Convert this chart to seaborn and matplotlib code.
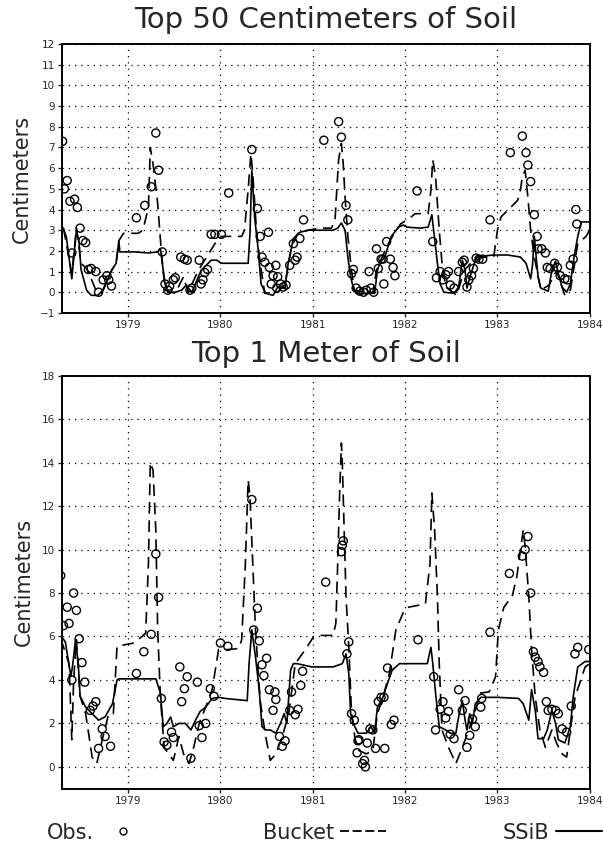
import matplotlib
matplotlib.use("Agg")
import matplotlib.pyplot as plt
from matplotlib.lines import Line2D
import seaborn as sns

# ---------------- Top 50 cm of soil ----------------
top_obs_x = [1978.29, 1978.31, 1978.34, 1978.37, 1978.39, 1978.42, 1978.45, 1978.48, 1978.51, 1978.54,
             1978.57, 1978.60, 1978.65, 1978.68, 1978.73, 1978.77, 1978.79, 1978.82,
             1979.09, 1979.18, 1979.25, 1979.30, 1979.33, 1979.37, 1979.40, 1979.43, 1979.45, 1979.49,
             1979.51, 1979.57, 1979.61, 1979.64, 1979.67, 1979.69, 1979.77, 1979.79, 1979.81, 1979.83,
             1979.86, 1979.90, 1979.94, 1980.01, 1980.09,
             1980.34, 1980.40, 1980.43, 1980.45, 1980.48, 1980.52, 1980.53, 1980.55, 1980.57, 1980.60,
             1980.61, 1980.62, 1980.65, 1980.68, 1980.71, 1980.75, 1980.79, 1980.81, 1980.83, 1980.86, 1980.90,
             1981.12, 1981.28, 1981.31, 1981.36, 1981.38, 1981.42, 1981.44, 1981.47, 1981.51, 1981.55,
             1981.58, 1981.61, 1981.63, 1981.66, 1981.69, 1981.71, 1981.74, 1981.76, 1981.77, 1981.80,
             1981.84, 1981.87, 1981.89,
             1982.13, 1982.30, 1982.34, 1982.38, 1982.41, 1982.44, 1982.47, 1982.49, 1982.53, 1982.58,
             1982.62, 1982.64, 1982.67, 1982.69, 1982.72, 1982.74, 1982.77, 1982.80, 1982.84, 1982.92,
             1983.14, 1983.27, 1983.31, 1983.33, 1983.36, 1983.40, 1983.43, 1983.44, 1983.48, 1983.52,
             1983.54, 1983.57, 1983.62, 1983.65, 1983.68, 1983.73, 1983.76, 1983.79, 1983.82, 1983.85, 1983.86]
top_obs_y = [7.3, 5.0, 5.4, 4.4, 1.9, 4.5, 4.1, 3.1, 2.5, 2.4,
             1.1, 1.15, 1.0, 0.0, 0.6, 0.8, 0.6, 0.3,
             3.6, 4.2, 5.1, 7.7, 5.9, 1.95, 0.4, 0.1, 0.3, 0.6,
             0.7, 1.7, 1.6, 1.55, 0.1, 0.2, 1.55, 0.4, 0.6, 0.95,
             1.1, 2.8, 2.8, 2.8, 4.8,
             6.9, 4.05, 2.7, 1.7, 1.45, 2.9, 1.2, 0.4, 0.8, 1.3,
             0.2, 0.75, 0.4, 0.25, 0.35, 1.3, 2.35, 1.55, 1.7, 2.6, 3.5,
             7.35, 8.25, 7.5, 4.2, 3.5, 0.9, 1.1, 0.2, 0.05, 0.0,
             0.1, 1.0, 0.2, 0.0, 2.1, 1.15, 1.6, 1.6, 0.4, 2.45,
             1.6, 1.2, 0.8,
             4.9, 2.45, 0.7, 1.0, 0.6, 0.85, 1.0, 0.35, 0.2, 1.0,
             1.45, 1.55, 0.25, 0.6, 0.8, 1.15, 1.65, 1.6, 1.6, 3.5,
             6.75, 7.55, 6.75, 6.15, 5.35, 3.75, 2.7, 2.1, 2.1, 1.9,
             1.2, 1.15, 1.4, 1.2, 0.8, 0.65, 0.6, 1.3, 1.6, 4.0, 3.3]

top_ssib_x = [1978.29, 1978.33, 1978.39, 1978.44, 1978.47, 1978.49, 1978.55, 1978.60, 1978.67, 1978.73,
              1978.82, 1978.87, 1978.90, 1978.91, 1979.07, 1979.22, 1979.32, 1979.35, 1979.40, 1979.43,
              1979.51, 1979.58, 1979.63, 1979.69, 1979.79, 1979.90, 1979.96, 1980.01, 1980.30, 1980.32,
              1980.34, 1980.37, 1980.41, 1980.44, 1980.49, 1980.57, 1980.62, 1980.70, 1980.73, 1980.79,
              1980.86, 1980.95, 1981.00, 1981.22, 1981.27, 1981.31, 1981.35, 1981.38, 1981.41, 1981.44,
              1981.47, 1981.58, 1981.67, 1981.70, 1981.73, 1981.78, 1981.85, 1981.93, 1981.98, 1982.02,
              1982.16, 1982.25, 1982.29, 1982.35, 1982.38, 1982.42, 1982.53, 1982.58, 1982.62, 1982.65,
              1982.67, 1982.70, 1982.75, 1982.78, 1982.84, 1982.96, 1983.11, 1983.25, 1983.31, 1983.36,
              1983.38, 1983.40, 1983.42, 1983.44, 1983.47, 1983.55, 1983.59, 1983.63, 1983.66, 1983.70,
              1983.75, 1983.79, 1983.83, 1983.87, 1983.91, 1984.00]
top_ssib_y = [3.15, 2.7, 0.65, 3.0, 2.35, 1.1, 0.1, -0.15, -0.15, 0.1,
              1.05, 1.4, 2.5, 1.95, 1.95, 1.9, 1.95, 2.1, 0.4, 0.0,
              0.0, 0.1, 0.35, 0.0, 1.05, 1.55, 1.55, 1.4, 1.4, 2.85,
              5.9, 3.65, 2.0, 0.4, -0.05, -0.15, 0.25, 0.2, 1.3, 2.6,
              2.9, 3.0, 3.0, 3.0, 3.1, 3.35, 3.0, 1.7, 0.75, 0.2,
              -0.05, -0.05, -0.05, 1.05, 1.45, 1.7, 2.7, 3.15, 3.25, 3.15,
              3.1, 3.15, 3.75, 1.4, 0.4, 0.0, -0.05, 0.25, 1.55, 1.05,
              0.2, 0.7, 1.4, 1.7, 1.75, 1.8, 1.8, 1.7, 1.4, 0.65,
              1.3, 2.7, 1.7, 0.75, 0.2, 0.05, 1.05, 1.5, 0.9, 0.25,
              0.0, 0.4, 1.7, 2.7, 3.4, 3.4]

top_bucket_x = [1978.30, 1978.39, 1978.44, 1978.49, 1978.55, 1978.60, 1978.66, 1978.71, 1978.82, 1978.87,
                1978.90, 1978.95, 1979.11, 1979.16, 1979.22, 1979.24, 1979.27, 1979.32, 1979.36, 1979.40,
                1979.51, 1979.60, 1979.65, 1979.76, 1979.94, 1980.01, 1980.23, 1980.26, 1980.30, 1980.33,
                1980.35, 1980.39, 1980.43, 1980.48, 1980.62, 1980.70, 1980.77, 1980.84, 1980.95, 1981.07,
                1981.20, 1981.24, 1981.26, 1981.28, 1981.31, 1981.33, 1981.35, 1981.38, 1981.42, 1981.45,
                1981.65, 1981.69, 1981.80, 1981.87, 1981.95, 1982.04, 1982.11, 1982.25, 1982.28, 1982.30,
                1982.33, 1982.35, 1982.37, 1982.40, 1982.44, 1982.56, 1982.64, 1982.71, 1982.84, 1982.96,
                1983.00, 1983.04, 1983.11, 1983.22, 1983.25, 1983.27, 1983.30, 1983.33, 1983.36, 1983.40,
                1983.47, 1983.56, 1983.64, 1983.73, 1983.79, 1983.87, 1983.96, 1984.00]
top_bucket_y = [3.1, 0.9, 3.1, 1.4, 1.15, 0.65, 0.0, -0.05, 1.05, 1.4,
                2.5, 2.85, 2.85, 3.0, 4.1, 7.0, 6.2, 4.3, 1.95, 0.1,
                -0.05, 0.75, 0.0, 1.05, 2.35, 2.7, 2.7, 3.0, 4.95, 6.7,
                5.75, 3.0, 1.4, -0.05, 0.0, 0.4, 2.2, 2.85, 3.0, 3.1,
                3.1, 3.4, 4.95, 6.4, 7.2, 6.2, 4.6, 2.7, 1.05, 0.1,
                -0.05, 1.05, 2.2, 2.75, 3.3, 3.55, 3.8, 3.8, 4.95, 6.4,
                5.6, 4.3, 3.0, 1.4, 0.25, -0.15, 1.05, 1.4, 1.7, 1.7,
                3.0, 3.65, 3.95, 4.45, 4.95, 5.6, 5.9, 4.6, 3.0, 1.7,
                0.1, 0.35, 1.05, -0.15, 0.1, 2.35, 2.7, 3.0]

# ---------------- Top 1 m of soil ----------------
m1_obs_x = [1978.27, 1978.30, 1978.34, 1978.36, 1978.39, 1978.41, 1978.44, 1978.47, 1978.50, 1978.53,
            1978.59, 1978.62, 1978.65, 1978.68, 1978.72, 1978.75, 1978.81,
            1979.09, 1979.17, 1979.25, 1979.30, 1979.33, 1979.36, 1979.39, 1979.42, 1979.47, 1979.49,
            1979.56, 1979.58, 1979.61, 1979.64, 1979.68, 1979.75, 1979.77, 1979.80, 1979.84, 1979.89, 1979.93,
            1980.00, 1980.08, 1980.34, 1980.36, 1980.40, 1980.42, 1980.45, 1980.47, 1980.50, 1980.53,
            1980.57, 1980.59, 1980.60, 1980.64, 1980.67, 1980.70, 1980.75, 1980.77, 1980.81, 1980.84,
            1980.87, 1980.89,
            1981.14, 1981.31, 1981.32, 1981.33, 1981.37, 1981.39, 1981.42, 1981.45, 1981.48, 1981.49,
            1981.50, 1981.54, 1981.56, 1981.57, 1981.59, 1981.62, 1981.65, 1981.68, 1981.71, 1981.74,
            1981.77, 1981.78, 1981.81, 1981.85, 1981.88,
            1982.14, 1982.31, 1982.33, 1982.38, 1982.41, 1982.44, 1982.47, 1982.49, 1982.53, 1982.58,
            1982.62, 1982.65, 1982.67, 1982.70, 1982.73, 1982.76, 1982.82, 1982.83, 1982.92,
            1983.13, 1983.27, 1983.30, 1983.33, 1983.36, 1983.39, 1983.41, 1983.44, 1983.46, 1983.50,
            1983.53, 1983.55, 1983.59, 1983.63, 1983.66, 1983.70, 1983.75, 1983.80, 1983.84, 1983.87, 1983.99]
m1_obs_y = [8.8, 6.5, 7.35, 6.6, 4.0, 8.0, 7.2, 5.9, 4.8, 3.9,
            2.6, 2.8, 3.0, 0.85, 1.75, 1.4, 0.95,
            4.3, 5.3, 6.1, 9.8, 7.8, 3.15, 1.15, 1.0, 1.6, 1.35,
            4.6, 3.0, 3.6, 4.15, 0.4, 3.9, 1.9, 1.35, 2.0, 3.6, 3.25,
            5.7, 5.55, 12.3, 6.3, 7.3, 5.8, 4.7, 4.2, 5.0, 3.55,
            2.6, 3.45, 3.1, 1.4, 0.95, 1.2, 2.6, 3.45, 2.4, 2.65,
            3.75, 4.4,
            8.5, 9.9, 10.2, 10.4, 5.2, 5.75, 2.45, 2.15, 0.65, 1.2,
            1.25, 0.15, 0.3, 0.0, 1.1, 1.75, 1.7, 0.85, 3.0, 3.2,
            3.2, 0.85, 4.55, 1.95, 2.15,
            5.85, 4.15, 1.7, 2.65, 3.0, 2.25, 2.55, 1.5, 1.3, 3.55,
            2.6, 3.05, 0.9, 1.45, 2.2, 1.85, 2.75, 3.15, 6.2,
            8.9, 9.7, 10.0, 10.6, 8.0, 5.3, 5.05, 4.85, 4.6, 4.35,
            3.0, 2.6, 2.65, 2.6, 2.45, 1.75, 1.6, 2.8, 5.2, 5.5, 5.4]

m1_ssib_x = [1978.27, 1978.32, 1978.38, 1978.40, 1978.43, 1978.46, 1978.48, 1978.54, 1978.61, 1978.68,
             1978.75, 1978.79, 1978.83, 1978.86, 1978.88, 1978.90, 1979.30, 1979.35, 1979.38, 1979.42,
             1979.46, 1979.49, 1979.55, 1979.62, 1979.68, 1979.73, 1979.78, 1979.84, 1979.91, 1979.98,
             1980.05, 1980.29, 1980.31, 1980.34, 1980.38, 1980.42, 1980.45, 1980.49, 1980.54, 1980.60,
             1980.65, 1980.69, 1980.72, 1980.76, 1980.79, 1980.83, 1980.99, 1981.22, 1981.32, 1981.36,
             1981.39, 1981.41, 1981.45, 1981.49, 1981.58, 1981.63, 1981.67, 1981.70, 1981.76, 1981.81,
             1981.86, 1981.94, 1982.24, 1982.28, 1982.30, 1982.33, 1982.37, 1982.44, 1982.49, 1982.55,
             1982.58, 1982.62, 1982.65, 1982.67, 1982.70, 1982.73, 1982.76, 1982.82, 1983.01, 1983.23,
             1983.28, 1983.34, 1983.37, 1983.41, 1983.44, 1983.50, 1983.54, 1983.59, 1983.63, 1983.66,
             1983.73, 1983.79, 1983.82, 1983.87, 1983.95, 1984.00]
m1_ssib_y = [6.05, 5.75, 4.15, 4.7, 5.85, 4.75, 3.25, 2.75, 2.45, 2.15,
             2.3, 2.6, 2.9, 3.55, 4.0, 4.05, 4.05, 3.4, 1.85, 2.0,
             2.3, 1.85, 2.0, 2.0, 1.7, 2.15, 2.55, 2.75, 3.15, 3.2,
             3.15, 3.05, 4.75, 6.3, 5.05, 3.55, 1.85, 1.7, 1.7, 1.55,
             2.0, 2.45, 2.0, 4.45, 4.75, 4.75, 4.6, 4.6, 4.75, 5.2,
             4.3, 2.45, 1.9, 1.55, 1.55, 1.85, 1.55, 2.75, 3.2, 3.85,
             4.45, 4.75, 4.75, 5.5, 4.75, 3.4, 1.85, 1.7, 1.55, 1.55,
             2.3, 3.05, 2.15, 1.7, 2.45, 2.05, 2.9, 3.2, 3.2, 3.15,
             2.9, 2.15, 3.55, 2.6, 1.3, 1.3, 1.7, 2.6, 2.0, 1.25,
             1.1, 1.85, 3.2, 4.6, 4.85, 4.85]

m1_bucket_x = [1978.27, 1978.36, 1978.39, 1978.41, 1978.44, 1978.48, 1978.54, 1978.61, 1978.66, 1978.72,
               1978.79, 1978.84, 1978.88, 1978.94, 1979.06, 1979.15, 1979.19, 1979.22, 1979.24, 1979.27,
               1979.30, 1979.32, 1979.35, 1979.39, 1979.44, 1979.49, 1979.55, 1979.60, 1979.66, 1979.71,
               1979.77, 1979.84, 1979.91, 1979.98, 1980.09, 1980.20, 1980.23, 1980.27, 1980.30, 1980.32,
               1980.35, 1980.38, 1980.43, 1980.49, 1980.54, 1980.60, 1980.67, 1980.74, 1980.81, 1980.92,
               1981.01, 1981.07, 1981.22, 1981.25, 1981.27, 1981.29, 1981.31, 1981.32, 1981.34, 1981.36,
               1981.39, 1981.42, 1981.46, 1981.50, 1981.58, 1981.65, 1981.70, 1981.76, 1981.83, 1981.90,
               1981.99, 1982.04, 1982.22, 1982.27, 1982.29, 1982.32, 1982.35, 1982.37, 1982.40, 1982.47,
               1982.55, 1982.62, 1982.69, 1982.76, 1982.82, 1982.91, 1982.98, 1983.01, 1983.07, 1983.16,
               1983.21, 1983.25, 1983.28, 1983.30, 1983.34, 1983.37, 1983.41, 1983.46, 1983.52, 1983.59,
               1983.64, 1983.70, 1983.75, 1983.79, 1983.84, 1983.95, 1984.00]
m1_bucket_y = [5.9, 4.75, 1.25, 4.0, 5.85, 3.25, 2.45, 0.45, 0.15, 1.25,
               2.45, 2.45, 5.55, 5.6, 5.7, 6.0, 6.15, 9.35, 14.0, 13.65,
               10.9, 6.3, 3.2, 0.9, 0.6, 0.3, 1.4, 0.6, 0.15, 0.9,
               2.0, 2.75, 3.55, 5.4, 5.4, 5.45, 5.85, 9.35, 13.2, 12.45,
               9.35, 6.3, 3.05, 1.4, 0.3, 0.6, 1.4, 2.45, 4.75, 5.4,
               6.0, 6.05, 6.05, 6.6, 9.35, 12.45, 14.9, 14.0, 10.9, 7.85,
               5.55, 2.45, 1.25, 0.75, 0.6, 0.75, 2.45, 3.2, 4.3, 6.3,
               7.2, 7.35, 7.5, 9.35, 12.6, 10.9, 7.85, 4.75, 1.7, 0.9,
               0.15, 0.9, 1.7, 2.6, 3.4, 3.45, 4.15, 6.3, 7.35, 7.85,
               8.75, 10.0, 10.9, 10.15, 7.85, 5.4, 3.2, 1.7, 0.9, 1.7,
               1.1, 0.6, 0.45, 1.7, 3.2, 4.6, 4.75]

year_ticks = [1979, 1980, 1981, 1982, 1983, 1984]
x_start = 1978.285


def draw_panel(ax, obs_x, obs_y, bucket_x, bucket_y, ssib_x, ssib_y, title, yticks, pad):
    sns.lineplot(x=ssib_x, y=ssib_y, ax=ax, color='black', lw=1.2,
                 estimator=None, sort=False)
    sns.lineplot(x=bucket_x, y=bucket_y, ax=ax, color='black', lw=1.2,
                 estimator=None, sort=False, linestyle=(0, (7, 4)))
    sns.scatterplot(x=obs_x, y=obs_y, ax=ax, marker='o', s=34,
                    facecolors='none', edgecolor='black', linewidth=1.0, zorder=3)
    ax.set_xlim(x_start, 1984.0)
    ax.set_ylim(yticks[0], yticks[-1])
    ax.set_yticks(yticks)
    ax.set_xticks(year_ticks)
    ax.set_xticklabels([str(y) for y in year_ticks])
    ax.grid(True, color='black', linestyle=(0, (1, 4)), lw=0.9)
    ax.tick_params(direction='out', length=3, width=1, labelsize=7.5, pad=2)
    for s in ax.spines.values():
        s.set_linewidth(1.4)
        s.set_color('black')
    ax.set_title(title, fontsize=21, pad=pad)
    ax.set_ylabel('Centimeters', fontsize=15, labelpad=6)
    ax.set_xlabel('')


sns.set_style('ticks')
plt.rcParams['font.family'] = ['DejaVu Sans']

fig = plt.figure(figsize=(6.03, 8.48), dpi=100)
ax1 = fig.add_axes([0.103, 0.631, 0.875, 0.317])
ax2 = fig.add_axes([0.103, 0.070, 0.875, 0.487])

draw_panel(ax1, top_obs_x, top_obs_y, top_bucket_x, top_bucket_y, top_ssib_x, top_ssib_y,
           'Top 50 Centimeters of Soil', list(range(-1, 13)), 11.5)
draw_panel(ax2, m1_obs_x, m1_obs_y, m1_bucket_x, m1_bucket_y, m1_ssib_x, m1_ssib_y,
           'Top 1 Meter of Soil', list(range(0, 19, 2)), 10)
ax2.set_ylim(-1, 18)

handles = [
    Line2D([], [], marker='o', ls='none', mfc='none', mec='black', ms=5),
    Line2D([], [], color='black', lw=1.3, ls=(0, (5, 2))),
    Line2D([], [], color='black', lw=1.5),
]
fig.legend(handles, ['Obs.', 'Bucket', 'SSiB'], ncol=3, markerfirst=False, frameon=False,
           loc='center', bbox_to_anchor=(0.538, 0.018), fontsize=15,
           handlelength=2.2, handletextpad=0.3, columnspacing=5.6)

fig.savefig('out.png', dpi=100)
